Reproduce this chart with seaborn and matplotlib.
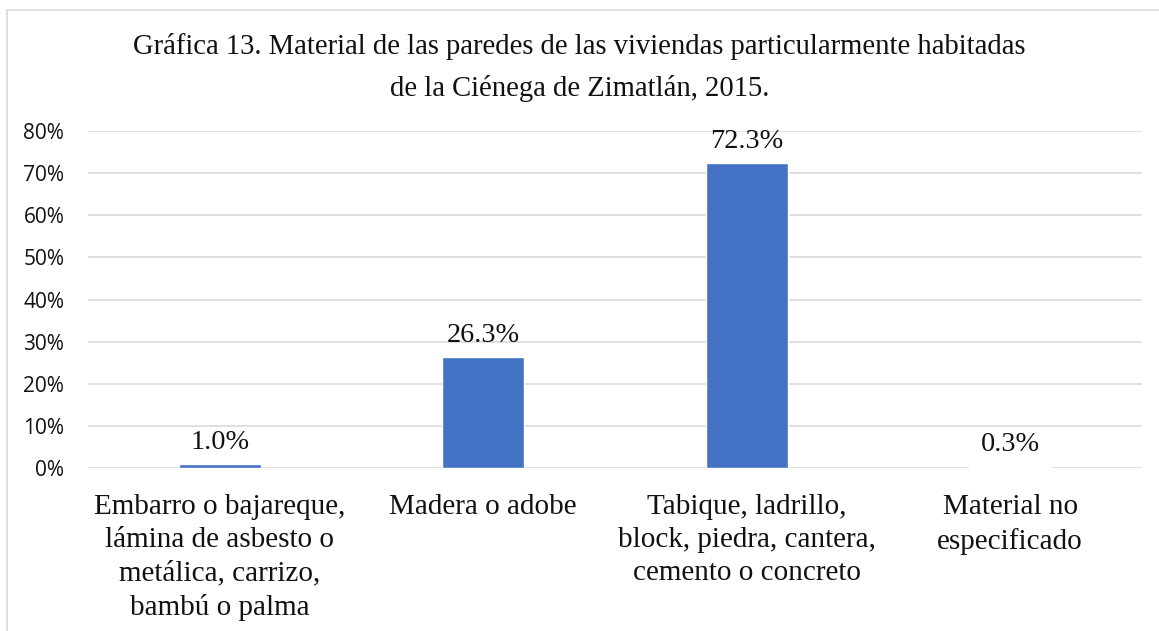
import matplotlib.pyplot as plt
import pandas as pd
import seaborn as sns
from matplotlib.lines import Line2D
from matplotlib.ticker import FuncFormatter

categories = [
    'Embarro o bajareque,\nlámina de asbesto o\nmetálica, carrizo,\nbambú o palma',
    'Madera o adobe',
    'Tabique, ladrillo,\nblock, piedra, cantera,\ncemento o concreto',
    'Material no\nespecificado',
]
values = [1.0, 26.3, 72.3, 0.3]
yticks = [0, 10, 20, 30, 40, 50, 60, 70, 80]

title = ('Gráfica 13. Material de las paredes de las viviendas particularmente habitadas\n'
         'de la Ciénega de Zimatlán, 2015.')

df = pd.DataFrame({'Material': categories, 'Porcentaje': values})

sns.set_style('white')
serif = ['Liberation Serif', 'DejaVu Serif']

fig = plt.figure(figsize=(11.59, 6.31), dpi=100)
ax = fig.add_axes([0.0759, 0.2583, 0.9094, 0.5341])

sns.barplot(data=df, x='Material', y='Porcentaje', color='#4472C4',
            width=0.31, saturation=1, ax=ax)

ax.set_ylim(0, 80)
ax.set_xlim(-0.5, 3.5)
ax.set_yticks(yticks)
ax.yaxis.set_major_formatter(FuncFormatter(lambda v, p: f'{v:.0f}%'))
ax.grid(axis='y', color='#D9D9D9', linewidth=1.2)
ax.set_axisbelow(True)
for s in ax.spines.values():
    s.set_visible(False)
ax.tick_params(axis='both', length=0)
ax.tick_params(axis='y', pad=17)
ax.tick_params(axis='x', pad=19)
ax.set_xlabel('')
ax.set_ylabel('')

for lab in ax.get_yticklabels():
    lab.set_fontfamily(['Open Sans', 'DejaVu Sans'])
    lab.set_fontsize(15)
    lab.set_color('#111111')
for lab in ax.get_xticklabels():
    lab.set_fontfamily(serif)
    lab.set_fontsize(21)
    lab.set_linespacing(1.35)
    lab.set_color('#111111')

for i, v in enumerate(values):
    ax.text(i, v + 2.2, f'{v:.1f}%', ha='center', va='bottom',
            fontsize=20.3, family=serif, color='#111111')

fig.text(0.5, 0.948, title, ha='center', va='top', fontsize=20.6,
         family=serif, linespacing=1.7, color='#111111')

# outer frame of the chart (top and left edges visible)
fig.add_artist(Line2D([7 / 1159, 1.0], [1 - 10 / 631, 1 - 10 / 631],
                      transform=fig.transFigure, color='#D9D9D9', linewidth=1.2))
fig.add_artist(Line2D([7 / 1159, 7 / 1159], [0, 1 - 10 / 631],
                      transform=fig.transFigure, color='#D9D9D9', linewidth=1.2))

fig.savefig('out.png', dpi=100)
